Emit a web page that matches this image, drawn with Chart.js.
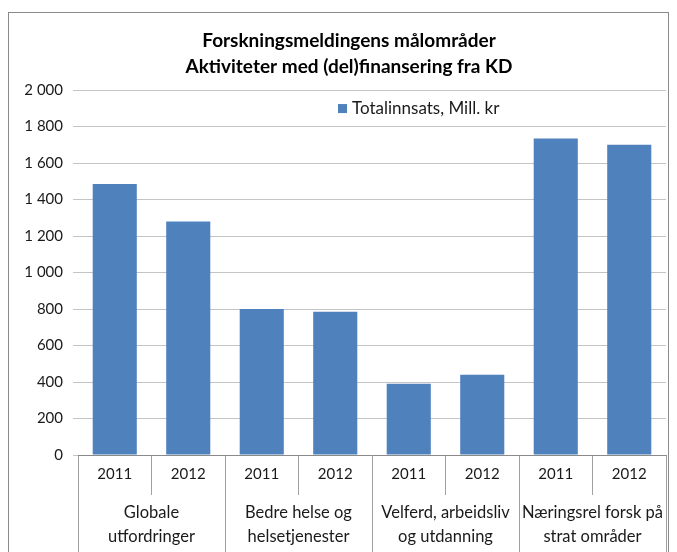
<!DOCTYPE html>
<html>
<head>
<meta charset="utf-8">
<script src="https://cdn.jsdelivr.net/npm/chart.js@4"></script>
<style>
  body { margin: 0; background: #fff; }
  #frame { position: absolute; left: 8px; top: 12px; width: 659px; height: 600px; border: 1px solid #8a8a8a; }
  #wrap { position: absolute; left: 0; top: 0; width: 677px; height: 552px; }
</style>
</head>
<body>
<div id="frame"></div>
<div id="wrap"><canvas id="kdChart" width="677" height="552"></canvas></div>
<script>
// one bar per (group, year)
const yearTicks = ['2011', '2012', '2011', '2012', '2011', '2012', '2011', '2012'];
const groups = [
    ['Globale', 'utfordringer'],
    ['Bedre helse og', 'helsetjenester'],
    ['Velferd, arbeidsliv', 'og utdanning'],
    ['Næringsrel forsk på', 'strat områder']
];
const totalinnsats = [1485, 1280, 800, 785, 390, 440, 1735, 1700];
const yTicks = { min: 0, max: 2000, step: 200 };

const FONT = 'Lato, "Open Sans", sans-serif';
const TXT = '#1a1a1a';

function spaced(v) {
    return String(v).replace(/\B(?=(\d{3})+(?!\d))/g, ' ');
}

// title sits a bit right of the canvas centre in the original
const titleShift = {
    id: 'titleShift',
    afterLayout(chart) {
        const t = chart.titleBlock;
        if (t) { t.left += 11; t.right += 11; }
    }
};

// legend drawn inside the plot, near the top
const innerLegend = {
    id: 'innerLegend',
    afterDraw(chart) {
        const ds = chart.data.datasets[0];
        const { ctx, chartArea } = chart;
        const x = chartArea.left + 260;
        const y = chartArea.top + 18.5;
        ctx.save();
        ctx.fillStyle = ds.backgroundColor;
        ctx.fillRect(x, y - 4.5, 9, 9);
        ctx.font = '17px ' + FONT;
        ctx.fillStyle = TXT;
        ctx.textBaseline = 'middle';
        ctx.fillText(ds.label, x + 14, y);
        ctx.restore();
    }
};

const ctx = document.getElementById('kdChart').getContext('2d');
const kdChart = new Chart(ctx, {
    type: 'bar',
    data: {
        labels: yearTicks,
        datasets: [{
            label: 'Totalinnsats, Mill. kr',
            data: totalinnsats,
            backgroundColor: '#4F81BD',
            borderWidth: 0,
            barPercentage: 0.6,
            categoryPercentage: 1.0
        }]
    },
    options: {
        responsive: false,
        animation: false,
        layout: { padding: { left: 10, right: 11, top: 0, bottom: 0 } },
        plugins: {
            title: {
                display: true,
                text: ['Forskningsmeldingens målområder', 'Aktiviteter med (del)finansering fra KD'],
                color: '#000',
                font: { family: FONT, size: 19, weight: 'bold', lineHeight: 1.37 },
                padding: { top: 28, bottom: 10 }
            },
            legend: { display: false },
            tooltip: { enabled: false }
        },
        scales: {
            y: {
                min: yTicks.min,
                max: yTicks.max,
                afterFit: s => { s.width = 68; },
                ticks: {
                    stepSize: yTicks.step,
                    color: TXT,
                    font: { family: FONT, size: 15 },
                    padding: 10,
                    callback: v => spaced(v)
                },
                grid: { color: '#c4c4c4', tickLength: 5 },
                border: { display: false }
            },
            x: {
                position: 'bottom',
                weight: 0,
                afterFit: s => { s.height = 40; },
                ticks: {
                    color: TXT,
                    font: { family: FONT, size: 15 },
                    padding: -30,
                    maxRotation: 0,
                    autoSkip: false
                },
                grid: {
                    drawOnChartArea: false,
                    offset: true,
                    color: '#a0a0a0',
                    tickLength: 40
                },
                border: { display: true, color: '#8a8a8a' }
            },
            x2: {
                type: 'category',
                position: 'bottom',
                weight: 1,
                labels: groups,
                offset: true,
                afterFit: s => { s.height = 57; },
                ticks: {
                    color: TXT,
                    font: { family: FONT, size: 16.5, lineHeight: 1.45 },
                    padding: -51,
                    maxRotation: 0,
                    autoSkip: false
                },
                grid: {
                    drawOnChartArea: false,
                    offset: true,
                    color: '#a0a0a0',
                    tickLength: 57
                },
                border: { display: false }
            }
        }
    },
    plugins: [titleShift, innerLegend]
});
</script>
</body>
</html>
